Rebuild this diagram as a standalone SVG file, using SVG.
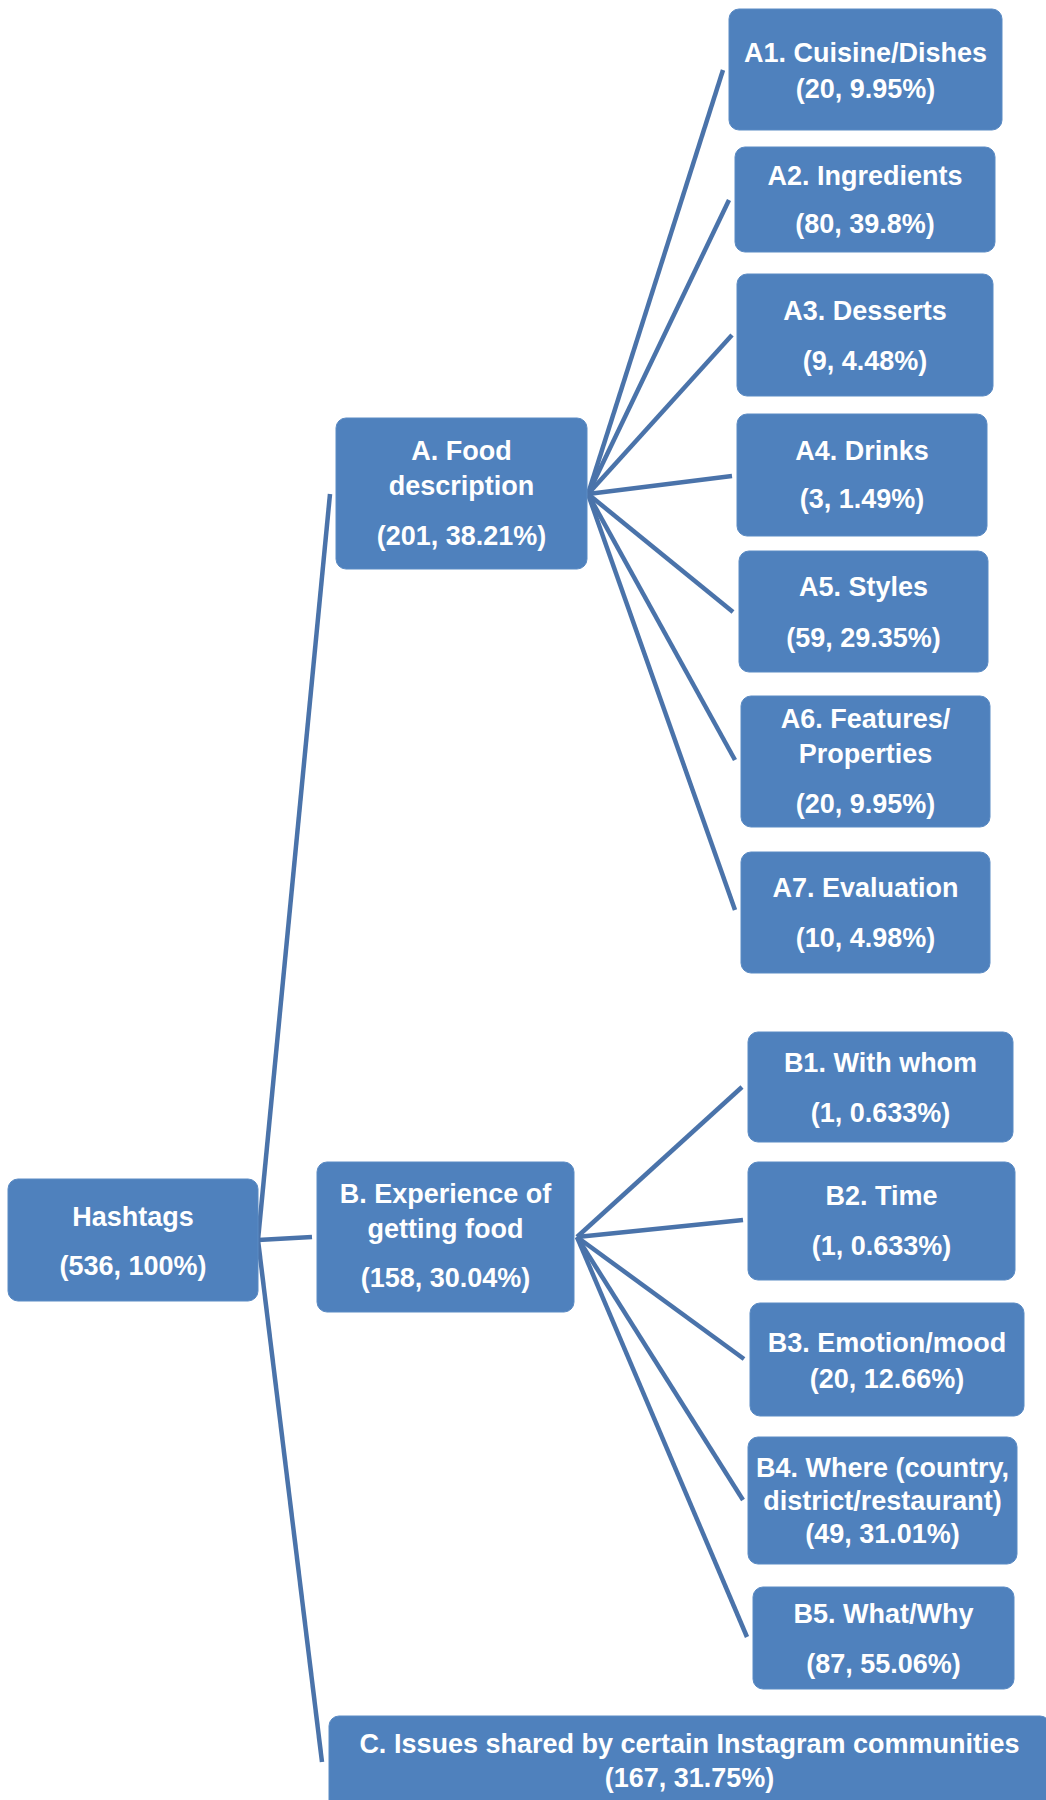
<svg xmlns="http://www.w3.org/2000/svg" width="1046" height="1800" viewBox="0 0 1046 1800">
  <style>
    .box { fill: #4f81bd; stroke: #5b8bc4; stroke-width: 1; }
    .lbl { font-family: "Liberation Sans", Arial, sans-serif; font-weight: bold; font-size: 27px; fill: #ffffff; text-anchor: middle; }
    .link { stroke: #4a73aa; stroke-width: 4.5; fill: none; stroke-linecap: butt; }
  </style>
  <rect width="1046" height="1800" fill="#ffffff"/>

  <!-- connectors -->
  <g id="connectors">
    <line class="link" x1="258" y1="1240" x2="330" y2="494"/>
    <line class="link" x1="258" y1="1240" x2="312" y2="1237"/>
    <line class="link" x1="258" y1="1240" x2="322" y2="1762"/>

    <line class="link" x1="588" y1="494" x2="723" y2="70"/>
    <line class="link" x1="588" y1="494" x2="729" y2="200"/>
    <line class="link" x1="588" y1="494" x2="732" y2="335"/>
    <line class="link" x1="588" y1="494" x2="732" y2="476"/>
    <line class="link" x1="588" y1="494" x2="733" y2="612"/>
    <line class="link" x1="588" y1="494" x2="735" y2="760"/>
    <line class="link" x1="588" y1="494" x2="735" y2="910"/>

    <line class="link" x1="577" y1="1237" x2="742" y2="1087"/>
    <line class="link" x1="577" y1="1237" x2="743" y2="1220"/>
    <line class="link" x1="577" y1="1237" x2="744" y2="1359"/>
    <line class="link" x1="577" y1="1237" x2="743" y2="1500"/>
    <line class="link" x1="577" y1="1237" x2="747" y2="1637"/>
  </g>

  <!-- root -->
  <g id="node-hashtags">
    <rect class="box" x="8" y="1179" width="250" height="122" rx="10"/>
    <text class="lbl" x="133" y="1226">Hashtags</text>
    <text class="lbl" x="133" y="1275">(536, 100%)</text>
  </g>

  <!-- level 1 -->
  <g id="node-a">
    <rect class="box" x="336" y="418" width="251" height="151" rx="10"/>
    <text class="lbl" x="461.5" y="460">A. Food</text>
    <text class="lbl" x="461.5" y="495">description</text>
    <text class="lbl" x="461.5" y="545">(201, 38.21%)</text>
  </g>
  <g id="node-b">
    <rect class="box" x="317" y="1162" width="257" height="150" rx="10"/>
    <text class="lbl" x="445.5" y="1203">B. Experience of</text>
    <text class="lbl" x="445.5" y="1238">getting food</text>
    <text class="lbl" x="445.5" y="1287">(158, 30.04%)</text>
  </g>
  <g id="node-c">
    <rect class="box" x="329" y="1716" width="721" height="120" rx="10"/>
    <text class="lbl" x="689.5" y="1753">C. Issues shared by certain Instagram communities</text>
    <text class="lbl" x="689.5" y="1787">(167, 31.75%)</text>
  </g>

  <!-- A children -->
  <g id="node-a1">
    <rect class="box" x="729" y="9" width="273" height="121" rx="10"/>
    <text class="lbl" x="865.5" y="62">A1. Cuisine/Dishes</text>
    <text class="lbl" x="865.5" y="98">(20, 9.95%)</text>
  </g>
  <g id="node-a2">
    <rect class="box" x="735" y="147" width="260" height="105" rx="10"/>
    <text class="lbl" x="865" y="185">A2. Ingredients</text>
    <text class="lbl" x="865" y="233">(80, 39.8%)</text>
  </g>
  <g id="node-a3">
    <rect class="box" x="737" y="274" width="256" height="122" rx="10"/>
    <text class="lbl" x="865" y="320">A3. Desserts</text>
    <text class="lbl" x="865" y="370">(9, 4.48%)</text>
  </g>
  <g id="node-a4">
    <rect class="box" x="737" y="414" width="250" height="122" rx="10"/>
    <text class="lbl" x="862" y="460">A4. Drinks</text>
    <text class="lbl" x="862" y="508">(3, 1.49%)</text>
  </g>
  <g id="node-a5">
    <rect class="box" x="739" y="551" width="249" height="121" rx="10"/>
    <text class="lbl" x="863.5" y="596">A5. Styles</text>
    <text class="lbl" x="863.5" y="647">(59, 29.35%)</text>
  </g>
  <g id="node-a6">
    <rect class="box" x="741" y="696" width="249" height="131" rx="10"/>
    <text class="lbl" x="865.5" y="728">A6. Features/</text>
    <text class="lbl" x="865.5" y="763">Properties</text>
    <text class="lbl" x="865.5" y="813">(20, 9.95%)</text>
  </g>
  <g id="node-a7">
    <rect class="box" x="741" y="852" width="249" height="121" rx="10"/>
    <text class="lbl" x="865.5" y="897">A7. Evaluation</text>
    <text class="lbl" x="865.5" y="947">(10, 4.98%)</text>
  </g>

  <!-- B children -->
  <g id="node-b1">
    <rect class="box" x="748" y="1032" width="265" height="110" rx="10"/>
    <text class="lbl" x="880.5" y="1072">B1. With whom</text>
    <text class="lbl" x="880.5" y="1122">(1, 0.633%)</text>
  </g>
  <g id="node-b2">
    <rect class="box" x="748" y="1162" width="267" height="118" rx="10"/>
    <text class="lbl" x="881.5" y="1205">B2. Time</text>
    <text class="lbl" x="881.5" y="1255">(1, 0.633%)</text>
  </g>
  <g id="node-b3">
    <rect class="box" x="750" y="1303" width="274" height="113" rx="10"/>
    <text class="lbl" x="887" y="1352">B3. Emotion/mood</text>
    <text class="lbl" x="887" y="1388">(20, 12.66%)</text>
  </g>
  <g id="node-b4">
    <rect class="box" x="748" y="1437" width="269" height="127" rx="10"/>
    <text class="lbl" x="882.5" y="1477">B4. Where (country,</text>
    <text class="lbl" x="882.5" y="1510">district/restaurant)</text>
    <text class="lbl" x="882.5" y="1543">(49, 31.01%)</text>
  </g>
  <g id="node-b5">
    <rect class="box" x="753" y="1587" width="261" height="102" rx="10"/>
    <text class="lbl" x="883.5" y="1623">B5. What/Why</text>
    <text class="lbl" x="883.5" y="1673">(87, 55.06%)</text>
  </g>
</svg>
